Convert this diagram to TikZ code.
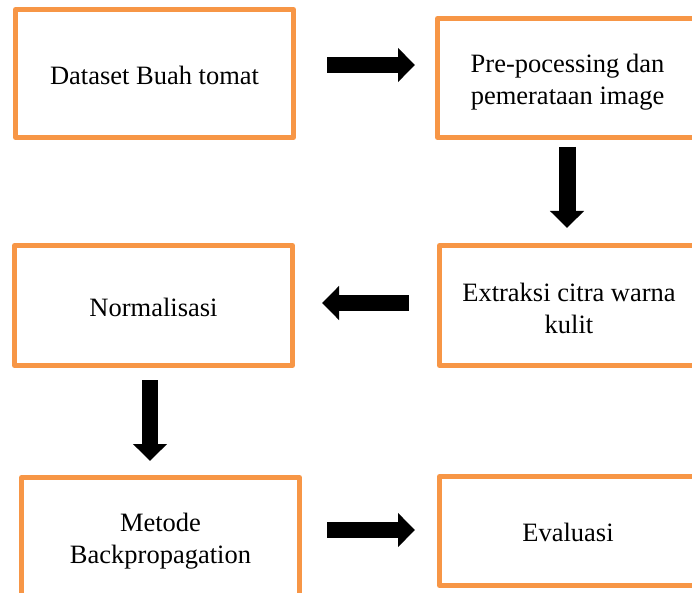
\documentclass[tikz,border=0pt]{standalone}
\usepackage{fontspec}
\setmainfont{Liberation Serif}
\usetikzlibrary{arrows.meta}
\definecolor{boxorange}{HTML}{F79646}
\tikzset{
  procbox/.style={draw=boxorange, line width=5pt, line join=round, fill=white,
    inner sep=0pt, outer sep=0pt},
  boxtext/.style={align=center, inner sep=0pt,
    font=\fontsize{26.5}{32.5}\selectfont},
  blk/.style={line width=16pt, draw=black, -{Triangle[width=33pt,length=17pt]}}
}
\begin{document}
\begin{tikzpicture}[x=1pt,y=-1pt]
\useasboundingbox (0,0) rectangle (692,593);
\clip (0,0) rectangle (692,593);
\node[procbox, minimum width=278pt, minimum height=128pt] (n1) at (154.5,73.5) {};
\node[procbox, minimum width=260pt, minimum height=119pt] (n2) at (567.5,78) {};
\node[procbox, minimum width=259pt, minimum height=120pt] (n4) at (569,305.5) {};
\node[procbox, minimum width=278pt, minimum height=120pt] (n3) at (153.5,305.5) {};
\node[procbox, minimum width=278pt, minimum height=121pt] (n5) at (160.5,538) {};
\node[procbox, minimum width=257pt, minimum height=109pt] (n6) at (568,531) {};
\node[boxtext] (t1) at ([yshift=-2pt]n1.center) {Dataset Buah tomat};
\node[boxtext] (t2) at ([yshift=-4pt]n2.center) {Pre-pocessing dan\\pemerataan image};
\node[boxtext] (t4) at ([yshift=-3pt]n4.center) {Extraksi citra warna\\kulit};
\node[boxtext] (t3) at ([yshift=-2pt]n3.center) {Normalisasi};
\node[boxtext] (t5) at ([yshift=-3pt]n5.center) {Metode\\Backpropagation};
\node[boxtext] (t6) at ([yshift=-1pt]n6.center) {Evaluasi};
\coordinate (a1s) at (327,65);  \coordinate (a1e) at (415,65);
\coordinate (a2s) at (567,147); \coordinate (a2e) at (567,228);
\coordinate (a3s) at (409,303); \coordinate (a3e) at (322,303);
\coordinate (a4s) at (150,380); \coordinate (a4e) at (150,461);
\coordinate (a5s) at (327,530); \coordinate (a5e) at (415,530);
\draw[blk] (a1s) -- (a1e);
\draw[blk, line width=17pt] (a2s) -- (a2e);
\draw[blk] (a3s) -- (a3e);
\draw[blk] (a4s) -- (a4e);
\draw[blk] (a5s) -- (a5e);
\end{tikzpicture}
\end{document}
